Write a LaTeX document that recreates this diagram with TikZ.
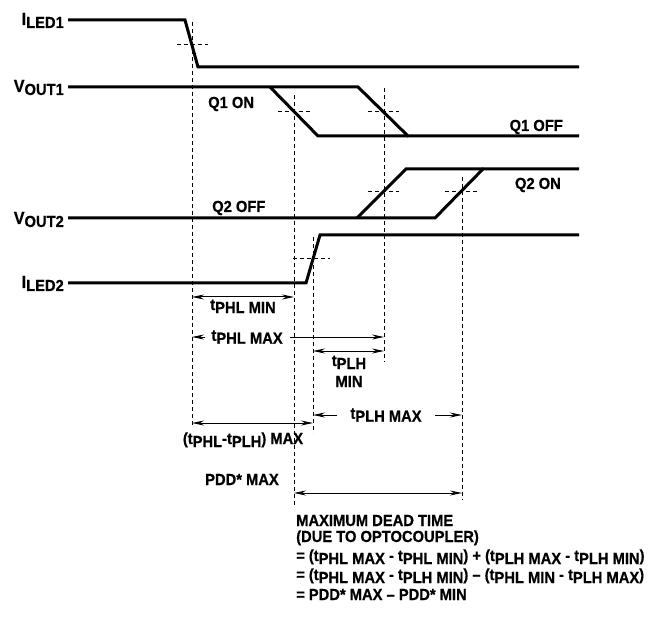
\documentclass[tikz,border=0pt]{standalone}
\usepackage{fontspec}
\setmainfont{Liberation Sans}[FakeStretch=0.92, BoldFeatures={FakeBold=0.6}]
\usepackage{tikz}
\usetikzlibrary{arrows.meta, positioning}

\newcommand{\lo}[1]{\raisebox{-3pt}{#1}}
\newcommand{\symb}[1]{{\fontsize{17.5}{20}\selectfont #1}}

\begin{document}
\begin{tikzpicture}[
    x=1pt, y=-1pt,
    font=\fontsize{16}{19}\selectfont\bfseries,
    wave/.style={line width=3pt, line join=miter},
    guide/.style={line width=0.9pt, dash pattern=on 4pt off 3pt},
    dim/.style={{Stealth[length=12pt, width=5pt]}-{Stealth[length=12pt, width=5pt]}, line width=1pt},
    lbl/.style={inner sep=0pt},
    gap/.style={fill=white, inner xsep=#1, inner ysep=1pt},
  ]
  \useasboundingbox (0,0) rectangle (650,617);

  % Signal names
  \node[lbl, anchor=base east] (iled1) at (64,25) {\symb{I}\lo{LED1}};
  \node[lbl, anchor=base east] (vout1) at (64,92) {\symb{V}\lo{OUT1}};
  \node[lbl, anchor=base east] (vout2) at (64,224) {\symb{V}\lo{OUT2}};
  \node[lbl, anchor=base east] (iled2) at (64,288) {\symb{I}\lo{LED2}};

  % Waveforms
  \draw[wave] (68,20) -- (185,20) -- (198,67) -- (579,67);
  \draw[wave] (68,87) -- (358,87) -- (408,136) -- (579,136);
  \draw[wave] (270,87) -- (318,136) -- (408,136);
  \draw[wave] (68,218) -- (435,218) -- (483,169) -- (579,169);
  \draw[wave] (357,218) -- (406,169) -- (483,169);
  \draw[wave] (68,283) -- (306,283) -- (320,235) -- (579,235);

  % State labels
  \node[lbl, anchor=base west] (q1on) at (208,108) {Q1 ON};
  \node[lbl, anchor=base east] (q1off) at (563,131) {Q1 OFF};
  \node[lbl, anchor=base west] (q2off) at (212,212) {Q2 OFF};
  \node[lbl, anchor=base east] (q2on) at (561,189) {Q2 ON};

  % Guide lines and 50% marks
  \foreach \x/\top/\bot in {192/22/425, 294/95/505, 313/237/433, 384/88/362, 462/177/500}
    \draw[guide] (\x,\top) -- (\x,\bot);
  \foreach \xa/\xb/\y in {177/208/44, 278/310/111, 368/399/111, 368/399/191, 445/477/191, 293/330/258}
    \draw[guide] (\xa,\y) -- (\xb,\y);

  % Arrow ends
  \coordinate (phlmin-a) at (192,297);  \coordinate (phlmin-b) at (294,297);
  \coordinate (phlmax-a) at (192,337);  \coordinate (phlmax-b) at (384,337);
  \coordinate (plhmin-a) at (313,351);  \coordinate (plhmin-b) at (384,351);
  \coordinate (plhmax-a) at (313,415);  \coordinate (plhmax-b) at (462,415);
  \coordinate (skew-a) at (192,423);    \coordinate (skew-b) at (313,423);
  \coordinate (dead-a) at (294,493);    \coordinate (dead-b) at (462,493);

  % Arrows
  \draw[dim] (phlmin-a) -- (phlmin-b);
  \draw[dim] (phlmax-a) -- node[gap=7pt, pos=0.287] (phlmaxlbl) {t\lo{PHL MAX}} (phlmax-b);
  \draw[dim] (plhmin-a) -- (plhmin-b);
  \draw[dim] (plhmax-a) -- node[gap=13pt, pos=0.49] (plhmaxlbl) {t\lo{PLH MAX}} (plhmax-b);
  \draw[dim] (skew-a) -- (skew-b);
  \draw[dim] (dead-a) -- (dead-b);

  % Arrow labels
  \node[lbl, anchor=base] (phlminlbl) at (243,310) {t\lo{PHL MIN}};
  \node[lbl, anchor=base, align=center] (plhminlbl) at (349,387) {t\lo{PLH}\\[2pt]MIN};
  \node[lbl, anchor=base] (skewlbl) at (243,444) {(t\lo{PHL}-t\lo{PLH}) MAX};
  \node[lbl, anchor=base] (pddlbl) at (242,485) {PDD* MAX};

  % Dead time
  \node[lbl, anchor=base west] (dead1) at (296,526) {MAXIMUM DEAD TIME};
  \node[lbl, anchor=base west] (dead2) at (296,542) {(DUE TO OPTOCOUPLER)};
  \node[lbl, anchor=base west] (dead3) at (296,561) {= (t\lo{PHL MAX} - t\lo{PHL MIN}) + (t\lo{PLH MAX} - t\lo{PLH MIN})};
  \node[lbl, anchor=base west] (dead4) at (296,580) {= (t\lo{PHL MAX} - t\lo{PLH MIN}) -- (t\lo{PHL MIN} - t\lo{PLH MAX})};
  \node[lbl, anchor=base west] (dead5) at (296,600) {= PDD* MAX -- PDD* MIN};
\end{tikzpicture}
\end{document}
